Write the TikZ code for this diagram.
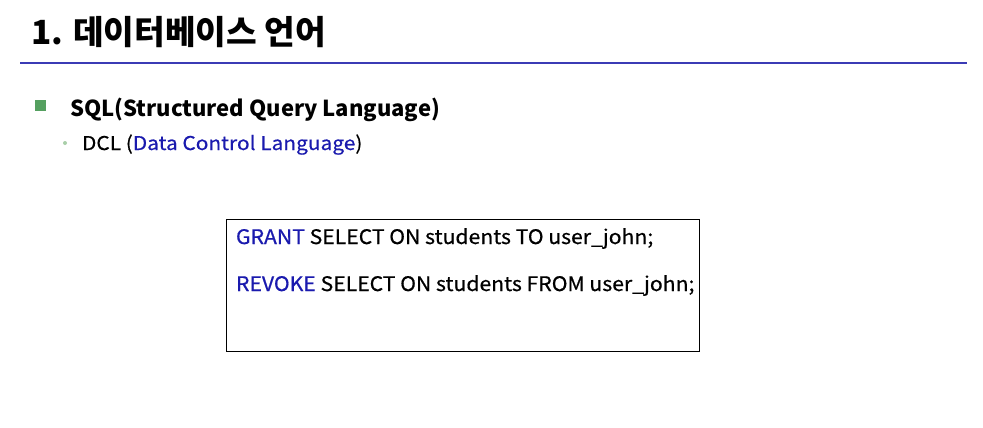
\documentclass[tikz,border=0pt]{standalone}
\usepackage{fontspec}
\setmainfont{Noto Sans CJK KR}
\newfontfamily\widefont{Noto Sans CJK KR}[FakeStretch=1.06, FakeBold=0.6]
\newfontfamily\dclfont{Noto Sans CJK KR}[FakeStretch=1.1, FakeBold=0.4]
\definecolor{rule}{HTML}{3B3BB5}
\definecolor{kw}{HTML}{1A1AAE}
\definecolor{sq}{HTML}{55A060}
\definecolor{dot}{HTML}{A9CFA9}
\tikzset{
  txt/.style={anchor=base west, inner sep=0pt, outer sep=0pt},
  codebox/.style={draw=black, line width=1pt, inner sep=0pt},
}
\begin{document}
\begin{tikzpicture}[x=1pt,y=-1pt]
\useasboundingbox (0,0) rectangle (983,428);
\fill[white] (0,0) rectangle (983,428);
\node[txt, font=\fontsize{33.3}{36}\selectfont\bfseries] (title) at (31,45) {1. 데이터베이스 언어};
\draw[rule, line width=1.6pt] (20,63) coordinate (l0) -- (967,63) coordinate (l1);
\fill[sq] (35,100) rectangle (46,111);
\node[txt, font=\fontsize{22}{26}\selectfont\bfseries] (sql) at (70,117) {SQL(Structured Query Language)};
\fill[dot] (65,143) circle (2);
\node[txt, font=\dclfont\fontsize{19}{22}\selectfont] (dcl) at (82,150) {DCL (\textcolor{kw}{Data Control Language})};
\node[codebox, minimum width=473, minimum height=132, anchor=north west] (box) at (226,219) {};
\node[txt, font=\widefont\fontsize{20}{22}\selectfont] (g) at (236,244) {\textcolor{kw}{GRANT} SELECT ON students TO user\_john;};
\node[txt, font=\widefont\fontsize{20}{22}\selectfont] (r) at (236,291) {\textcolor{kw}{REVOKE} SELECT ON students FROM user\_john;};
\end{tikzpicture}
\end{document}
